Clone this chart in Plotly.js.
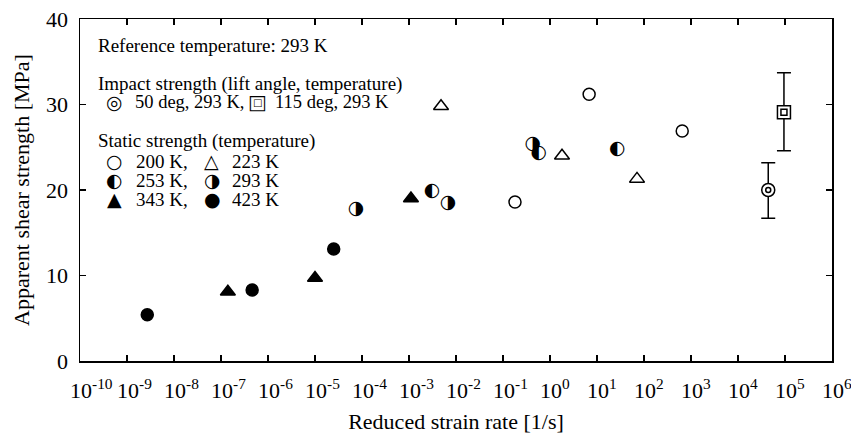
<!DOCTYPE html>
<html><head><meta charset="utf-8">
<script src="https://cdn.plot.ly/plotly-3.0.1.min.js"></script>
<style>html,body{margin:0;padding:0;background:#fff}</style>
</head><body><div id="chart" style="width:851px;height:434px"></div>
<script>
// ---- data ----
const s200x = [0.18, 6.8, 650];        const s200y = [18.6, 31.2, 26.9];
const s223x = [0.0048, 1.8, 71];       const s223y = [29.8, 24.0, 21.3];
const s253x = [0.0031, 0.58, 27];      const s253y = [19.9, 24.3, 24.8];
const s293x = [7.5e-5, 0.0068, 0.43];  const s293y = [17.7, 18.5, 25.4];
const s343x = [1.4e-7, 1.0e-5, 1.1e-3];const s343y = [8.1, 9.7, 19.0];
const s423x = [2.7e-9, 4.6e-7, 2.5e-5];const s423y = [5.4, 8.3, 13.1];
const imp50x = [4.4e4];  const imp50y = [20.0];  const imp50plus = [3.2];  const imp50minus = [3.3];
const imp115x = [9.5e4]; const imp115y = [29.1]; const imp115plus = [4.6]; const imp115minus = [4.5];
const xTickExp = [-10,-9,-8,-7,-6,-5,-4,-3,-2,-1,0,1,2,3,4,5,6];
const yTicks = [0,10,20,30,40];

const SERIF = 'Liberation Serif';
const SYM = 'DejaVu Sans';
const K = '#000';

function mk(x, y, symbol, size, fill, extra) {
  return Object.assign({
    type:'scatter', mode:'markers', x:x, y:y, hoverinfo:'skip', showlegend:false,
    marker:{symbol:symbol, size:size, color:fill, line:{color:K, width:1.5}}
  }, extra||{});
}
function glyph(x, y, ch, size) {
  return {type:'scatter', mode:'text', x:x, y:y, text:x.map(()=>ch),
    textposition:'middle center', textfont:{family:SYM, size:size, color:K},
    hoverinfo:'skip', showlegend:false};
}

const traces = [
  mk(imp50x, imp50y, 'circle', 13, '#fff', {error_y:{type:'data', symmetric:false, array:imp50plus, arrayminus:imp50minus, color:K, thickness:1.5, width:7}}),
  mk(imp50x, imp50y, 'circle-open', 5, K),
  mk(imp115x, imp115y, 'square', 13, '#fff', {error_y:{type:'data', symmetric:false, array:imp115plus, arrayminus:imp115minus, color:K, thickness:1.5, width:7}}),
  mk(imp115x, imp115y, 'square-open', 6, K),
  mk(s200x, s200y, 'circle', 12, '#fff'),
  mk(s223x, s223y, 'triangle-up', 13, '#fff'),
  mk(s343x, s343y, 'triangle-up', 13, K),
  mk(s423x, s423y, 'circle', 12, K),
  glyph(s253x, s253y, '\u25D0', 19),
  glyph(s293x, s293y, '\u25D1', 19)
];

// ---- legend (layout text) ----
const anns = [];
function at(px, py, text, size, family, anchor) {
  anns.push({xref:'paper', yref:'paper', x:0, y:1, xanchor:anchor||'left', yanchor:'middle',
    xshift:px-80, yshift:-(py-19), text:text, showarrow:false,
    font:{family:family||SERIF, size:size||19, color:K}});
}
at(96, 45, 'Reference temperature: 293 K');
at(96, 84, 'Impact strength (lift angle, temperature)');
at(114, 102, '\u25CE', 19, SYM, 'center'); at(133, 102, '50 deg, 293 K,', 18.5);
at(257, 102, '\u25A1', 20, SYM, 'center'); at(257, 102, '\u25A1', 10, SYM, 'center'); at(273, 102, '115 deg, 293 K', 18.5);
at(96, 141, 'Static strength (temperature)');
at(114, 161, '\u25CB', 19, SYM, 'center'); at(134, 161, '200 K,');
at(211, 161, '\u25B3', 19, SYM, 'center'); at(230, 161, '223 K');
at(114, 180, '\u25D0', 19, SYM, 'center'); at(134, 180, '253 K,');
at(212, 180, '\u25D1', 19, SYM, 'center'); at(230, 180, '293 K');
at(114, 199, '\u25B2', 19, SYM, 'center'); at(134, 199, '343 K,');
at(212, 199, '\u25CF', 19, SYM, 'center'); at(230, 199, '423 K');

// x tick labels: "10" centred on the tick, exponent to the right
xTickExp.forEach(e => {
  anns.push({xref:'x', yref:'paper', x:e, y:0, xanchor:'left', yanchor:'top', xshift:-12, yshift:-12,
    text:'10<sup>'+e+'</sup>', showarrow:false, font:{family:SERIF, size:22, color:K}});
});

const axisCommon = {showgrid:false, zeroline:false, showline:true, linecolor:K, linewidth:1.5,
  mirror:'ticks', ticks:'inside', ticklen:6, tickwidth:1.5, tickcolor:K};

const layout = {
  width:851, height:434, margin:{l:80, r:19, t:19, b:73},
  paper_bgcolor:'#fff', plot_bgcolor:'#fff', showlegend:false,
  font:{family:SERIF, size:22, color:K},
  xaxis:Object.assign({type:'log', range:[-10,6], tickvals:xTickExp.map(e=>Math.pow(10,e)),
    showticklabels:false, title:{text:'Reduced strain rate [1/s]', font:{family:SERIF, size:22, color:K}, standoff:63}}, axisCommon),
  yaxis:Object.assign({range:[0,40], tickvals:yTicks, ticklabelstandoff:6,
    tickfont:{family:SERIF, size:22, color:K},
    title:{text:'Apparent shear strength [MPa]', font:{family:SERIF, size:22, color:K}, standoff:10}}, axisCommon),
  annotations:anns
};
Plotly.newPlot('chart', traces, layout, {staticPlot:true, displayModeBar:false});
</script></body></html>
